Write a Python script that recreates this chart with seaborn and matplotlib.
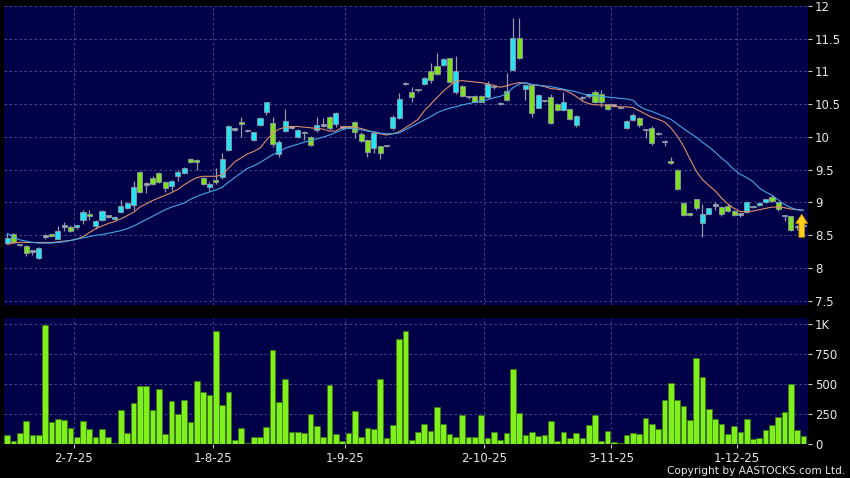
import numpy as np
import pandas as pd
import matplotlib
matplotlib.use("Agg")
from matplotlib import pyplot as plt
import seaborn as sns

# daily candles (HK$), oldest first
opens = [8.38, 8.52, 8.35, 8.34, 8.25, 8.15, 8.48, 8.51, 8.45, 8.63,
         8.63, 8.62, 8.73, 8.82, 8.64, 8.74, 8.78, 8.75, 8.86, 8.92,
         8.96, 9.47, 9.27, 9.38, 9.45, 9.32, 9.25, 9.41, 9.45, 9.67,
         9.65, 9.38, 9.23, 9.35, 9.39, 9.80, 10.11, 10.23, 10.09, 9.96,
         10.19, 10.38, 10.22, 9.74, 10.09, 10.14, 10.00, 10.08, 10.00, 10.10,
         10.17, 10.30, 10.20, 10.14, 10.14, 10.23, 10.05, 9.96, 9.83, 9.86,
         9.86, 10.13, 10.29, 10.81, 10.68, 10.71, 10.81, 11.00, 11.09, 11.10,
         11.20, 10.68, 10.78, 10.61, 10.63, 10.63, 10.61, 10.76, 10.50, 10.70,
         11.02, 11.51, 10.74, 10.79, 10.45, 10.55, 10.61, 10.50, 10.41, 10.42,
         10.18, 10.59, 10.62, 10.69, 10.66, 10.50, 10.48, 10.44, 10.13, 10.26,
         10.29, 10.10, 10.13, 10.04, 9.92, 9.64, 9.50, 8.99, 8.83, 9.05,
         8.69, 8.83, 8.95, 8.93, 8.95, 8.87, 8.81, 8.85, 8.93, 8.96,
         9.00, 9.09, 9.00, 8.79, 8.79, 8.62, 8.64]
closes = [8.46, 8.40, 8.35, 8.23, 8.25, 8.31, 8.48, 8.49, 8.57, 8.63,
          8.57, 8.65, 8.85, 8.79, 8.72, 8.87, 8.78, 8.78, 8.94, 8.99,
          9.24, 9.16, 9.27, 9.29, 9.32, 9.22, 9.33, 9.46, 9.52, 9.62,
          9.62, 9.29, 9.29, 9.31, 9.67, 10.17, 10.11, 10.20, 10.09, 10.07,
          10.29, 10.53, 9.90, 9.93, 10.25, 10.14, 10.11, 10.06, 9.88, 10.18,
          10.17, 10.13, 10.36, 10.14, 10.14, 10.07, 9.94, 9.77, 10.06, 9.76,
          9.86, 10.31, 10.58, 10.81, 10.61, 10.71, 10.90, 10.87, 10.96, 11.19,
          10.84, 11.01, 10.63, 10.61, 10.54, 10.54, 10.81, 10.76, 10.52, 10.56,
          11.51, 11.21, 10.79, 10.37, 10.64, 10.55, 10.22, 10.41, 10.54, 10.27,
          10.32, 10.59, 10.66, 10.54, 10.54, 10.42, 10.48, 10.44, 10.25, 10.34,
          10.19, 10.10, 9.91, 10.06, 9.92, 9.60, 9.21, 8.81, 8.81, 8.91,
          8.83, 8.91, 8.95, 8.82, 8.87, 8.81, 8.81, 9.01, 8.93, 8.99,
          9.05, 9.02, 8.90, 8.79, 8.58, 8.64, 8.66]
highs = [8.53, 8.54, 8.37, 8.35, 8.27, 8.32, 8.52, 8.52, 8.64, 8.70,
         8.65, 8.66, 8.88, 8.88, 8.74, 8.88, 8.80, 8.79, 9.04, 9.00,
         9.33, 9.48, 9.32, 9.40, 9.47, 9.33, 9.34, 9.50, 9.54, 9.68,
         9.66, 9.39, 9.32, 9.53, 9.75, 10.18, 10.13, 10.31, 10.10, 10.08,
         10.31, 10.54, 10.30, 9.95, 10.42, 10.16, 10.12, 10.09, 10.01, 10.30,
         10.29, 10.32, 10.38, 10.16, 10.15, 10.25, 10.07, 9.97, 10.07, 9.87,
         9.87, 10.33, 10.67, 10.84, 10.76, 10.72, 10.92, 11.13, 11.29, 11.20,
         11.21, 11.23, 10.79, 10.63, 10.64, 10.64, 10.86, 10.77, 10.53, 10.98,
         11.81, 11.81, 10.80, 10.80, 10.65, 10.57, 10.66, 10.52, 10.69, 10.43,
         10.33, 10.62, 10.67, 10.72, 10.71, 10.51, 10.49, 10.45, 10.26, 10.36,
         10.30, 10.12, 10.17, 10.07, 9.95, 9.69, 9.51, 9.00, 8.84, 9.06,
         8.98, 8.92, 9.00, 8.94, 8.97, 8.88, 8.83, 9.02, 8.94, 9.00,
         9.06, 9.11, 9.01, 8.80, 8.80, 8.66, 8.68]
lows = [8.36, 8.38, 8.33, 8.18, 8.20, 8.14, 8.44, 8.48, 8.44, 8.56,
        8.55, 8.60, 8.67, 8.74, 8.60, 8.72, 8.76, 8.73, 8.84, 8.90,
        8.89, 9.14, 9.14, 9.27, 9.30, 9.16, 9.17, 9.33, 9.44, 9.60,
        9.50, 9.26, 9.18, 9.29, 9.36, 9.78, 10.09, 10.00, 10.07, 9.94,
        10.17, 10.33, 9.85, 9.70, 10.07, 10.12, 9.98, 9.95, 9.86, 10.08,
        10.15, 10.11, 10.16, 10.13, 10.13, 9.99, 9.92, 9.70, 9.75, 9.66,
        9.85, 10.11, 10.28, 10.79, 10.53, 10.69, 10.80, 10.82, 10.94, 11.08,
        10.82, 10.66, 10.61, 10.58, 10.53, 10.53, 10.60, 10.74, 10.49, 10.55,
        11.00, 11.19, 10.56, 10.30, 10.44, 10.53, 10.20, 10.40, 10.40, 10.26,
        10.16, 10.55, 10.60, 10.52, 10.46, 10.41, 10.46, 10.43, 10.12, 10.25,
        10.15, 9.98, 9.88, 10.03, 9.86, 9.59, 9.19, 8.80, 8.80, 8.88,
        8.48, 8.82, 8.89, 8.80, 8.86, 8.79, 8.78, 8.84, 8.92, 8.95,
        8.99, 9.01, 8.87, 8.71, 8.57, 8.58, 8.60]
# volume in thousands of shares
volumes = [72, 22, 89, 194, 72, 78, 989, 186, 211, 203,
           133, 56, 189, 128, 58, 125, 56, 8, 281, 94,
           342, 481, 483, 286, 458, 83, 358, 250, 364, 186,
           525, 431, 406, 939, 328, 436, 31, 136, 8, 56,
           61, 139, 778, 347, 544, 97, 97, 89, 247, 150,
           61, 494, 83, 28, 94, 278, 61, 136, 125, 544,
           53, 156, 869, 942, 33, 103, 169, 110, 310, 165,
           85, 55, 245, 55, 58, 242, 52, 97, 30, 92,
           622, 258, 78, 103, 64, 75, 192, 22, 103, 53,
           94, 53, 161, 242, 22, 108, 19, 5, 78, 89,
           81, 219, 164, 122, 369, 503, 364, 319, 203, 711,
           553, 292, 206, 169, 83, 147, 97, 206, 39, 50,
           114, 158, 228, 264, 497, 119, 64]
# moving averages as drawn on the chart
ma_fast = [8.36, 8.38, 8.39, 8.39, 8.39, 8.39, 8.39, 8.39, 8.40, 8.41,
           8.42, 8.44, 8.48, 8.54, 8.60, 8.64, 8.68, 8.71, 8.75, 8.80,
           8.85, 8.93, 8.98, 9.03, 9.07, 9.11, 9.15, 9.20, 9.27, 9.33,
           9.38, 9.40, 9.40, 9.40, 9.42, 9.52, 9.62, 9.68, 9.74, 9.78,
           9.83, 9.95, 10.06, 10.12, 10.15, 10.16, 10.16, 10.15, 10.14, 10.13,
           10.12, 10.09, 10.09, 10.15, 10.16, 10.15, 10.13, 10.10, 10.07, 10.05,
           10.03, 10.05, 10.08, 10.14, 10.20, 10.27, 10.40, 10.50, 10.60, 10.70,
           10.78, 10.85, 10.86, 10.85, 10.84, 10.83, 10.81, 10.79, 10.76, 10.78,
           10.81, 10.83, 10.82, 10.80, 10.79, 10.77, 10.74, 10.73, 10.72, 10.68,
           10.62, 10.55, 10.51, 10.49, 10.49, 10.48, 10.47, 10.46, 10.46, 10.45,
           10.40, 10.35, 10.30, 10.27, 10.23, 10.14, 10.02, 9.86, 9.67, 9.48,
           9.35, 9.26, 9.18, 9.07, 8.98, 8.91, 8.86, 8.86, 8.87, 8.89,
           8.91, 8.93, 8.93, 8.92, 8.90, 8.89, 8.88]
ma_slow = [8.53, 8.47, 8.43, 8.41, 8.39, 8.38, 8.38, 8.38, 8.39, 8.40,
           8.42, 8.44, 8.46, 8.48, 8.50, 8.51, 8.53, 8.55, 8.57, 8.60,
           8.64, 8.69, 8.74, 8.79, 8.84, 8.89, 8.93, 8.96, 8.99, 9.05,
           9.09, 9.13, 9.16, 9.19, 9.23, 9.31, 9.38, 9.45, 9.52, 9.56,
           9.61, 9.67, 9.73, 9.77, 9.83, 9.86, 9.89, 9.92, 9.95, 9.97,
           10.00, 10.03, 10.07, 10.11, 10.14, 10.12, 10.11, 10.09, 10.08, 10.06,
           10.05, 10.05, 10.06, 10.11, 10.16, 10.21, 10.26, 10.31, 10.37, 10.41,
           10.44, 10.46, 10.49, 10.51, 10.53, 10.55, 10.57, 10.60, 10.62, 10.66,
           10.75, 10.81, 10.83, 10.80, 10.79, 10.78, 10.77, 10.75, 10.73, 10.71,
           10.69, 10.66, 10.64, 10.63, 10.62, 10.61, 10.60, 10.59, 10.58, 10.56,
           10.47, 10.42, 10.39, 10.35, 10.31, 10.27, 10.20, 10.13, 10.06, 10.00,
           9.92, 9.85, 9.77, 9.68, 9.60, 9.50, 9.43, 9.38, 9.32, 9.22,
           9.16, 9.11, 9.04, 8.97, 8.92, 8.89, 8.88]

# first trading day of each month (bar index) and its label
month_first = [11, 33, 54, 76, 96, 116]
month_labels = ["2-7-25", "1-8-25", "1-9-25", "2-10-25", "3-11-25", "1-12-25"]
price_ticks = [7.5, 8, 8.5, 9, 9.5, 10, 10.5, 11, 11.5, 12]
vol_ticks = [0, 250, 500, 750, 1000]
vol_labels = ["0", "250", "500", "750", "1K"]

df = pd.DataFrame({"open": opens, "high": highs, "low": lows, "close": closes,
                   "vol": volumes, "ma_fast": ma_fast, "ma_slow": ma_slow})
df["i"] = np.arange(len(df))

NAVY = "#000048"
GRID = "#52529a"
UP = "#26e2f2"
DOWN = "#80df20"
FLAT = "#a8a8b4"
TXT = "#e8e8e8"

sns.set_style("dark", {"axes.facecolor": NAVY, "figure.facecolor": "black"})
plt.rcParams["font.family"] = ["DejaVu Sans"]

fig = plt.figure(figsize=(8.5, 4.78), dpi=100, facecolor="black")
ax = fig.add_axes([4 / 850, 1 - 305 / 478, 804 / 850, 299 / 478])
axv = fig.add_axes([4 / 850, 1 - 444 / 478, 804 / 850, 126 / 478])

# candles
body_lo = df[["open", "close"]].min(axis=1)
body_h = (df["close"] - df["open"]).abs().clip(lower=0.022)
colors = np.where(df["close"] > df["open"], UP,
                  np.where(df["close"] < df["open"], DOWN, FLAT))
ax.vlines(df["i"], df["low"], df["high"], color="#9a9aa6", lw=0.9, zorder=2)
ax.bar(df["i"], body_h, bottom=body_lo, width=0.8, color=colors,
       edgecolor="#8d98a4", linewidth=0.6, zorder=3)

# moving averages
sns.lineplot(data=df, x="i", y="ma_fast", color="#e08e68", lw=0.8, ax=ax, zorder=4)
sns.lineplot(data=df, x="i", y="ma_slow", color="#42a8e6", lw=0.8, ax=ax, zorder=4)

# marker arrow on the last bar
n = len(df)
ax.annotate("", xy=(n - 1.3, ma_slow[-1] - 0.06), xytext=(n - 1.3, lows[-1] - 0.13),
            arrowprops=dict(arrowstyle="simple,head_length=0.65,head_width=0.85,tail_width=0.4",
                            fc="#ffcf1c", ec="#d08a00", lw=0.6, shrinkA=0, shrinkB=0),
            zorder=6)

# volume
sns.barplot(data=df, x="i", y="vol", native_scale=True, width=0.9, color="#7ff01c",
            saturation=1, edgecolor="#3d7a12", linewidth=0.5, errorbar=None, ax=axv)

for a in (ax, axv):
    a.set_facecolor(NAVY)
    a.set_xlim(-0.5, 126.7)
    a.set_xlabel("")
    a.set_ylabel("")
    for s in a.spines.values():
        s.set_visible(False)
    for m in month_first:
        a.axvline(m - 0.5, color=GRID, ls=(0, (3, 3)), lw=0.6, zorder=1)
    a.yaxis.tick_right()
    a.grid(axis="y", color=GRID, ls=(0, (3, 3)), lw=0.6)
    a.grid(axis="x", visible=False)
    a.set_axisbelow(True)
    a.tick_params(axis="y", right=True, colors="#c8c8c8", labelcolor=TXT,
                  length=3, width=0.8, pad=2, labelsize=8.5)

ax.set_ylim(7.435, 12.0)
ax.set_yticks(price_ticks)
ax.set_yticklabels([f"{v:g}" for v in price_ticks])
ax.tick_params(axis="x", bottom=False, labelbottom=False)

axv.set_ylim(0, 1047)
axv.set_yticks(vol_ticks)
axv.set_yticklabels(vol_labels)
axv.set_xticks([m - 0.5 for m in month_first])
axv.set_xticklabels(month_labels)
axv.tick_params(axis="x", bottom=True, colors="#c8c8c8", labelcolor=TXT,
                length=3, width=0.8, pad=3, labelsize=8.5)

fig.text(845 / 850, 1 - 474 / 478, "Copyright by AASTOCKS.com Ltd.", ha="right",
         va="baseline", color=TXT, fontsize=7.6)

fig.savefig("out.png", dpi=100, facecolor="black")
